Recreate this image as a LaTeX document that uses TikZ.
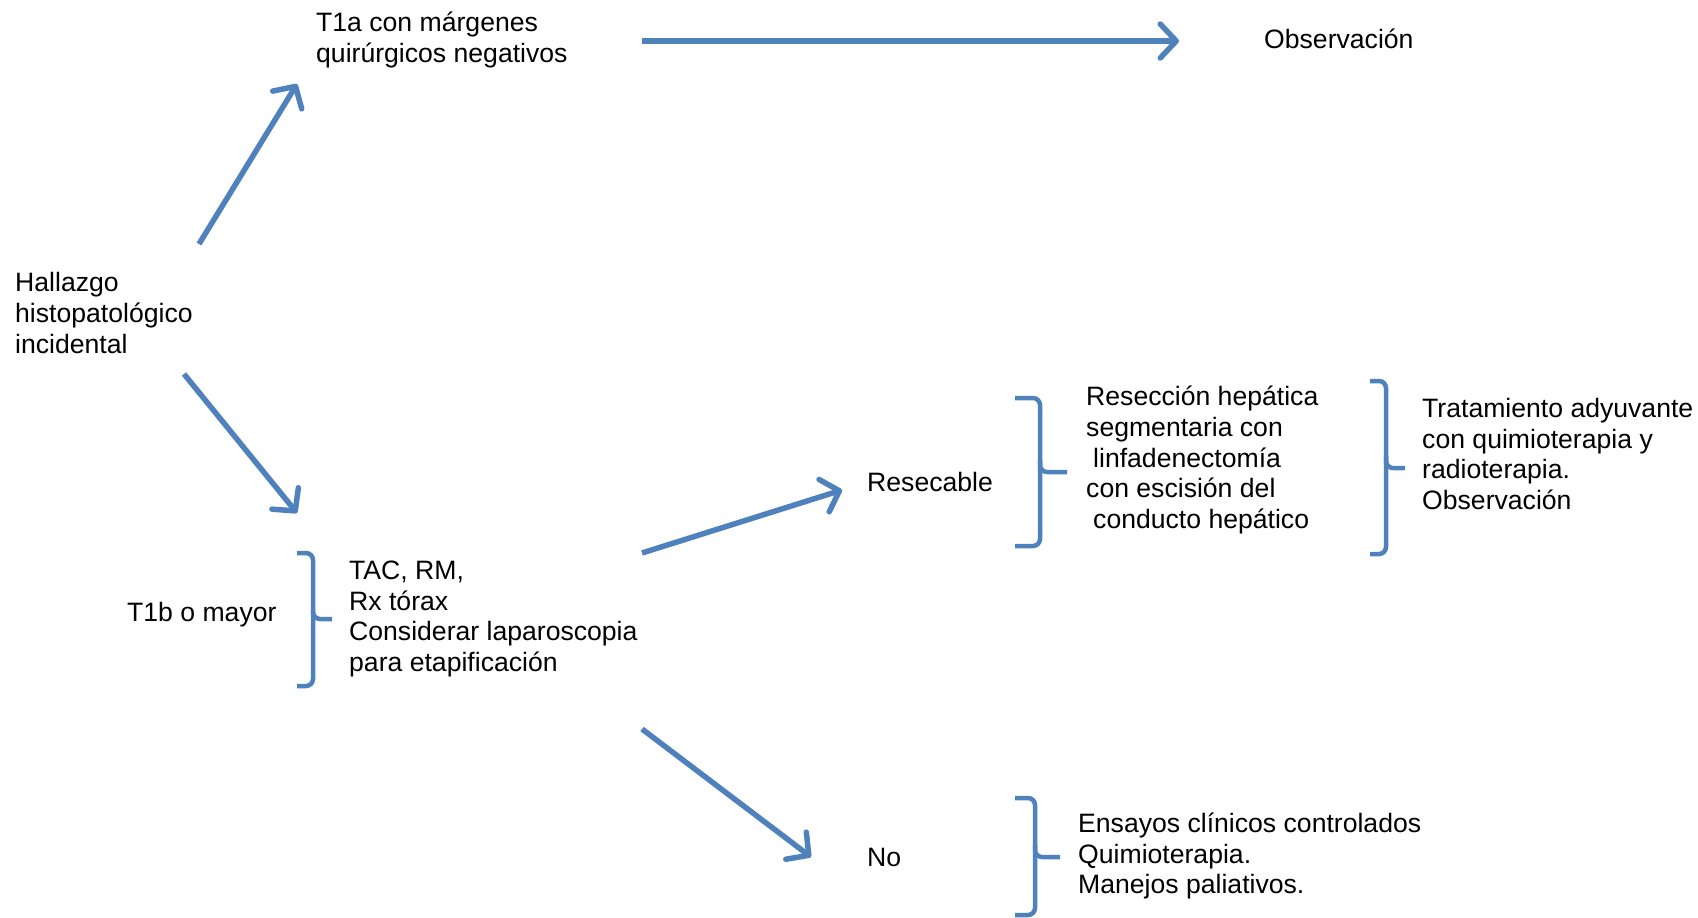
\documentclass[tikz,border=0pt]{standalone}
\usepackage{fontspec}
\setmainfont{Liberation Sans}
\usetikzlibrary{arrows.meta}
\definecolor{lineblue}{HTML}{4F81BD}
\begin{document}
\begin{tikzpicture}[x=1pt,y=-1pt,
  txt/.style={anchor=west,align=left,inner sep=0pt,font=\fontsize{26.6}{30.6}\selectfont},
  arr/.style={draw=lineblue,line width=5.5pt,-{Straight Barb[length=16pt,width=34pt,line width=5.5pt,round]}},
  brace/.style={draw=lineblue,line width=4.5pt,rounded corners=7pt}]
\useasboundingbox (0,0) rectangle (1698,918);
% texts
\node[txt] (t1a) at (316,40) {T1a con márgenes\\quirúrgicos negativos};
\node[txt] (obs) at (1264,39) {Observación};
\node[txt] (hall) at (15,313) {Hallazgo\\histopatológico\\incidental};
\node[txt] (t1b) at (127,615) {T1b o mayor};
\node[txt] (tac) at (349,619) {TAC, RM,\\Rx tórax\\Considerar laparoscopia\\para etapificación};
\node[txt] (res) at (867,482) {Resecable};
\node[txt] (rhep) at (1086,460) {Resección hepática\\segmentaria con\\\hspace*{7pt}linfadenectomía\\con escisión del\\\hspace*{7pt}conducto hepático};
\node[txt] (trat) at (1422,454) {Tratamiento adyuvante\\con quimioterapia y\\radioterapia.\\Observación};
\node[txt] (no) at (867,857) {No};
\node[txt] (ens) at (1078,856) {Ensayos clínicos controlados\\Quimioterapia.\\Manejos paliativos.};
% arrow end points
\coordinate (a1s) at (199,244); \coordinate (a1e) at (297,84);
\coordinate (a2s) at (642,41);  \coordinate (a2e) at (1179,41);
\coordinate (a3s) at (184,374); \coordinate (a3e) at (297,513);
\coordinate (a4s) at (642,553); \coordinate (a4e) at (842,490);
\coordinate (a5s) at (642,729); \coordinate (a5e) at (811,857);
\draw[arr] (a1s) -- (a1e);
\draw[arr] (a2s) -- (a2e);
\draw[arr] (a3s) -- (a3e);
\draw[arr] (a4s) -- (a4e);
\draw[arr] (a5s) -- (a5e);
% braces
\draw[brace] (297,553) -- (313,553) -- (313,619) -- (332,619);
\draw[brace] (313,610) -- (313,686) -- (297,686);
\draw[brace] (1015,398) -- (1040,398) -- (1040,472) -- (1067,472);
\draw[brace] (1040,460) -- (1040,546) -- (1015,546);
\draw[brace] (1370,381) -- (1386,381) -- (1386,468) -- (1405,468);
\draw[brace] (1386,455) -- (1386,554) -- (1370,554);
\draw[brace] (1015,798) -- (1035,798) -- (1035,857) -- (1060,857);
\draw[brace] (1035,845) -- (1035,915) -- (1015,915);
\end{tikzpicture}
\end{document}
